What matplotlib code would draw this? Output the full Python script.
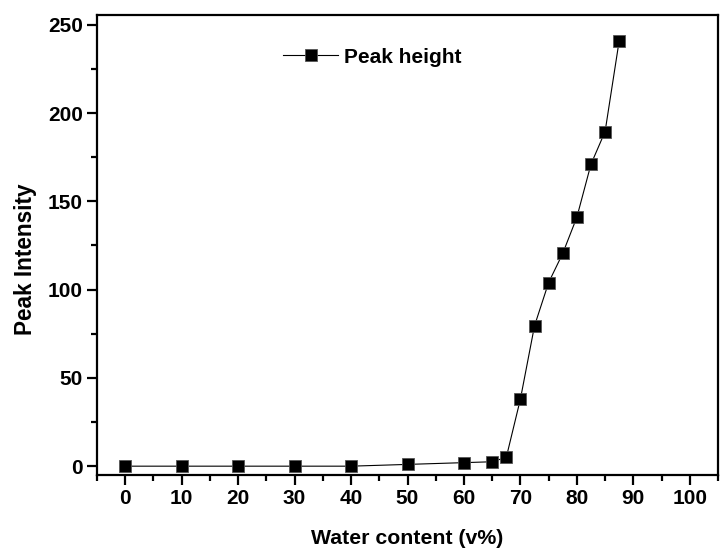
import numpy as np
import matplotlib
matplotlib.use("Agg")
import matplotlib.pyplot as plt
from matplotlib.ticker import MultipleLocator

plt.rcParams['font.family'] = ['Liberation Sans', 'DejaVu Sans']
plt.rcParams['font.weight'] = 'bold'

water = [0, 10, 20, 30, 40, 50, 60, 65, 67.5, 70, 72.5, 75, 77.5, 80, 82.5, 85, 87.5]
peak = [0, 0, 0, 0, 0, 1, 2, 2.5, 5, 38, 79.5, 104, 120.5, 141, 171, 189.5, 241]

fig = plt.figure(figsize=(7.2, 5.48), dpi=100)
ax = fig.add_axes([97/720, 1-475/548, 621/720, 460/548])

ax.plot(water, peak, color='black', lw=0.8, marker='s', ms=8,
        mfc='black', mec='#555555', mew=0.6, label='Peak height')

ax.set_xlim(-5, 105)
ax.set_ylim(-5, 255.5)
ax.xaxis.set_major_locator(MultipleLocator(10))
ax.xaxis.set_minor_locator(MultipleLocator(5))
ax.yaxis.set_major_locator(MultipleLocator(50))
ax.yaxis.set_minor_locator(MultipleLocator(25))

for s in ax.spines.values():
    s.set_linewidth(1.6)
ax.tick_params(which='major', direction='out', length=7, width=1.6, labelsize=15, pad=3)
ax.tick_params(which='minor', direction='out', length=4, width=1.6)
for lab in ax.get_xticklabels() + ax.get_yticklabels():
    lab.set_fontweight('bold')

ax.set_xlabel('Water content (v%)', fontsize=15.3, fontweight='bold', labelpad=15)
ax.set_ylabel('Peak Intensity', fontsize=16.3, fontweight='bold')
ax.yaxis.set_label_coords(-0.097, 0.47)

ax.legend(loc='upper left', bbox_to_anchor=(0.27, 0.97), frameon=False,
          handlelength=2.6, handletextpad=0.3,
          prop={'weight': 'bold', 'size': 15})

fig.savefig('out.png', dpi=100)
